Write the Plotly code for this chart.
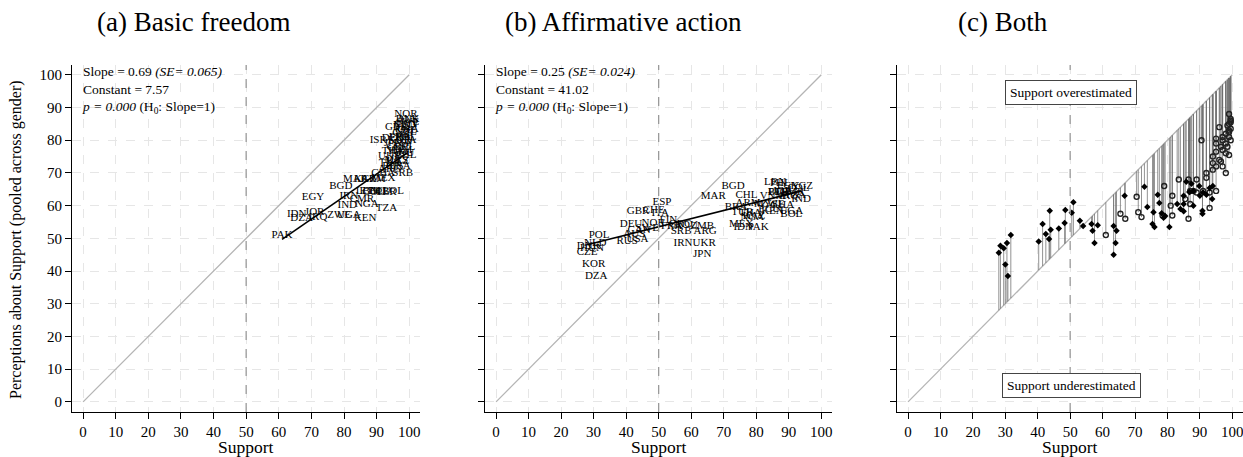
import plotly.graph_objects as go

# ---------------- data ----------------
# (a) Basic freedom: country, support, perceived support
a_countries = ["PAK", "IDN", "DZA", "JOR", "IRQ", "EGY", "ZWE", "UGA", "IND", "KEN",
               "NGA", "TZA", "BGD", "MAR", "IRN", "CMR", "KGZ", "ARM", "MEX", "LBN",
               "ETH", "ECU", "COL", "PER", "BOL", "GHA", "ARG", "RUS", "KAZ", "BRA",
               "UKR", "SRB", "THA", "VNM", "PHL", "MYS", "TUR", "ROU", "GRC", "CHL",
               "JPN", "KOR", "ESP", "DEU", "FRA", "POL", "CZE", "ITA", "ISR", "CHE",
               "NLD", "GBR", "USA", "CAN", "AUS", "SWE", "DNK", "NOR", "NZL"]
a_support = [61.0, 65.5, 67.0, 71.0, 72.0, 70.5, 78.5, 81.5, 81.0, 86.5,
             87.0, 93.0, 79.0, 83.5, 81.5, 85.5, 86.5, 89.0, 92.0, 87.0,
             88.0, 91.0, 89.0, 93.0, 95.0, 92.0, 94.0, 95.0, 96.5, 97.0,
             94.0, 98.0, 95.0, 97.0, 99.0, 96.0, 94.0, 98.0, 96.5, 98.5,
             95.0, 97.0, 98.0, 95.0, 97.0, 99.0, 98.0, 99.5, 90.5, 99.0,
             98.5, 96.0, 99.5, 99.0, 99.5, 99.5, 99.5, 99.0, 99.0]
a_percept = [51.0, 57.5, 56.0, 58.0, 56.5, 62.7, 57.0, 57.0, 60.0, 56.0,
             60.5, 59.3, 66.0, 68.0, 63.0, 62.0, 68.0, 68.0, 68.5, 64.5,
             64.5, 64.5, 64.0, 64.0, 64.5, 70.0, 71.0, 72.0, 73.5, 72.0,
             75.0, 70.0, 76.5, 77.0, 75.5, 74.0, 73.0, 76.0, 78.0, 78.0,
             79.0, 80.0, 79.0, 80.5, 81.0, 81.0, 82.0, 80.0, 80.0, 83.0,
             84.5, 84.0, 83.5, 85.0, 86.0, 85.5, 86.5, 88.0, 82.5]
a_slope, a_const = 0.69, 7.57

# (b) Affirmative action
b_countries = ["DZA", "KOR", "CZE", "DNK", "HUN", "NLD", "POL", "RUS", "USA", "AUS",
               "CAN", "DEU", "GBR", "CHE", "ESP", "ITA", "NOR", "SWE", "FIN", "FRA",
               "GRC", "SRB", "IRN", "ROU", "ZMB", "ARG", "UKR", "JPN", "MAR", "BGD",
               "CHL", "BRA", "TUR", "MEX", "ARM", "THA", "KAZ", "VNM", "LBN", "IDN",
               "PAK", "NGA", "ZWE", "KEN", "UGA", "PER", "BOL", "ECU", "GHA", "ETH",
               "EGY", "PHL", "JOR", "IND", "COL", "IRQ", "CMR", "TZA", "KGZ", "MYS"]
b_support = [30.8, 30.0, 28.0, 28.5, 29.5, 30.5, 31.7, 40.3, 43.5, 42.5,
             44.0, 41.5, 43.7, 48.5, 51.0, 50.5, 48.3, 46.5, 53.0, 54.0,
             56.6, 56.9, 57.5, 58.5, 63.4, 64.3, 64.0, 63.4, 66.8, 72.9,
             77.0, 73.8, 75.7, 75.4, 77.5, 78.2, 79.3, 85.0, 85.8, 76.0,
             80.6, 78.8, 85.0, 85.0, 90.8, 86.8, 90.8, 84.0, 88.0, 86.8,
             89.8, 87.4, 88.0, 93.8, 93.0, 90.0, 91.0, 92.0, 94.0, 83.0]
b_percept = [38.5, 42.0, 45.6, 47.7, 47.0, 48.6, 51.0, 49.0, 49.8, 51.3,
             52.6, 54.4, 58.4, 58.7, 61.0, 57.8, 54.7, 53.0, 55.4, 53.8,
             54.4, 52.3, 48.6, 54.0, 53.8, 52.3, 48.6, 45.0, 63.0, 65.8,
             63.3, 59.6, 58.0, 54.4, 60.8, 57.7, 56.8, 63.0, 67.3, 53.5,
             53.5, 56.3, 60.5, 58.3, 58.4, 64.2, 57.5, 59.0, 60.0, 64.2,
             66.0, 66.7, 64.5, 62.0, 65.4, 63.0, 64.0, 63.3, 66.0, 60.5]
b_slope, b_const = 0.25, 41.02

ticks = list(range(0, 101, 10))
titles = ["(a) Basic freedom", "(b) Affirmative action", "(c) Both"]
stats_a = ["Slope = 0.69 <i>(SE= 0.065)</i>", "Constant = 7.57", "<i>p = 0.000</i> (H<sub>0</sub>: Slope=1)"]
stats_b = ["Slope = 0.25 <i>(SE= 0.024)</i>", "Constant = 41.02", "<i>p = 0.000</i> (H<sub>0</sub>: Slope=1)"]

# ---------------- figure ----------------
W, H = 1243, 457
FONT = "Liberation Serif"
fig = go.Figure()

def px_x(p):
    return p / W

def px_y(p):
    return 1 - p / H

domains = [(72, 420), (485, 832), (897, 1243)]
xr = [-3.4, 103.3]
yr = [-3.1, 103.0]

diag_color = "#b4b4b4"

for i, (countries, sx, sy, slope, const) in enumerate([
        (a_countries, a_support, a_percept, a_slope, a_const),
        (b_countries, b_support, b_percept, b_slope, b_const)]):
    xa = "x" if i == 0 else "x2"
    ya = "y" if i == 0 else "y2"
    fig.add_trace(go.Scatter(x=[0, 100], y=[0, 100], mode="lines",
                             line=dict(color=diag_color, width=1.3),
                             xaxis=xa, yaxis=ya, showlegend=False, hoverinfo="skip"))
    fig.add_trace(go.Scatter(x=sx, y=sy, mode="text", text=countries,
                             textposition="middle center",
                             textfont=dict(family=FONT, size=11, color="black"),
                             xaxis=xa, yaxis=ya, showlegend=False))
    x0, x1 = min(sx), max(sx)
    fig.add_trace(go.Scatter(x=[x0, x1], y=[const + slope * x0, const + slope * x1],
                             mode="lines", line=dict(color="black", width=1.6),
                             xaxis=xa, yaxis=ya, showlegend=False, hoverinfo="skip"))

# panel (c)
fig.add_trace(go.Scatter(x=[0, 100], y=[0, 100], mode="lines",
                         line=dict(color=diag_color, width=1.3),
                         xaxis="x3", yaxis="y3", showlegend=False, hoverinfo="skip"))
for sx, sy in [(a_support, a_percept), (b_support, b_percept)]:
    lx, ly = [], []
    for xv, yv in zip(sx, sy):
        lx += [xv, xv, None]
        ly += [xv, yv, None]
    fig.add_trace(go.Scatter(x=lx, y=ly, mode="lines",
                             line=dict(color="rgba(110,110,110,0.75)", width=1),
                             xaxis="x3", yaxis="y3", showlegend=False, hoverinfo="skip"))
fig.add_trace(go.Scatter(x=a_support, y=a_percept, mode="markers",
                         marker=dict(symbol="circle-open", size=5, color="#222",
                                     line=dict(width=1.4, color="#222")),
                         xaxis="x3", yaxis="y3", showlegend=False))
fig.add_trace(go.Scatter(x=b_support, y=b_percept, mode="markers",
                         marker=dict(symbol="diamond", size=5, color="black"),
                         xaxis="x3", yaxis="y3", showlegend=False))

axis_common = dict(range=xr, tickvals=ticks, ticks="outside", ticklen=6,
                   tickcolor="black", showline=True, linecolor="black", linewidth=1,
                   showgrid=True, gridcolor="#e6e6e6", griddash="dash", gridwidth=1,
                   zeroline=False, ticklabeloverflow="allow",
                   tickfont=dict(family=FONT, size=15, color="black"))

layout = dict(width=W, height=H, margin=dict(l=0, r=0, t=0, b=0),
              plot_bgcolor="white", paper_bgcolor="white", showlegend=False)
for i, (d0, d1) in enumerate(domains):
    sfx = "" if i == 0 else str(i + 1)
    layout["xaxis" + sfx] = dict(axis_common, domain=[px_x(d0), px_x(d1)],
                                 anchor="y" + sfx)
    ya = dict(axis_common, range=yr, domain=[px_y(412), px_y(65)],
              anchor="x" + sfx, ticklen=6, showticklabels=(i == 0))
    layout["yaxis" + sfx] = ya
fig.update_layout(**layout)

# vertical dashed line at 50
for i in range(3):
    sfx = "" if i == 0 else str(i + 1)
    fig.add_shape(type="line", xref="x" + sfx, yref="y" + sfx + " domain",
                  x0=50, x1=50, y0=0, y1=1,
                  line=dict(color="#9a9a9a", width=1.3, dash="dash"))

# titles
for t, cx in zip(titles, [193, 623, 1003]):
    fig.add_annotation(text=t, xref="paper", yref="paper", x=px_x(cx), y=px_y(22),
                       showarrow=False, xanchor="center", yanchor="middle",
                       font=dict(family=FONT, size=27, color="black"))

# x-axis titles
for d0, d1 in domains:
    fig.add_annotation(text="Support", xref="paper", yref="paper",
                       x=px_x((d0 + d1) / 2), y=px_y(447), showarrow=False,
                       xanchor="center", yanchor="middle",
                       font=dict(family=FONT, size=17.5, color="black"))

# y-axis title
fig.add_annotation(text="Perceptions about Support (pooled across gender)",
                   xref="paper", yref="paper", x=px_x(16), y=px_y(240),
                   showarrow=False, textangle=-90, xanchor="center", yanchor="middle",
                   font=dict(family=FONT, size=16, color="black"))

# stats text
for stats, x0 in [(stats_a, 80), (stats_b, 493)]:
    fig.add_annotation(text="<br>".join(stats), xref="paper", yref="paper",
                       x=px_x(x0), y=px_y(62), showarrow=False, align="left",
                       xanchor="left", yanchor="top",
                       font=dict(family=FONT, size=13.5, color="black"))

# panel (c) boxes
for t, yv in [("Support overestimated", 94.5), ("Support underestimated", 4.9)]:
    fig.add_annotation(text=t, xref="x3", yref="y3", x=50.3, y=yv, showarrow=False,
                       bordercolor="#444", borderwidth=1, borderpad=4, bgcolor="white",
                       font=dict(family=FONT, size=13.5, color="black"))

fig.write_html("out.html")
